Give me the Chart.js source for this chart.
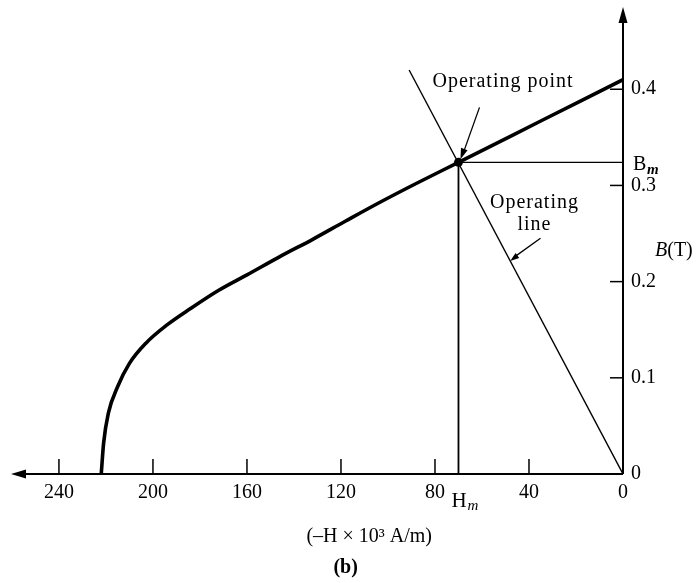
<!DOCTYPE html>
<html>
<head>
<meta charset="utf-8">
<script src="https://cdn.jsdelivr.net/npm/chart.js@4"></script>
<style>
  html, body { margin: 0; padding: 0; background: #fff; }
  #wrap { width: 698px; height: 583px; }
</style>
</head>
<body>
<div id="wrap"><canvas id="c" width="698" height="583"></canvas></div>
<script>
// ---- data (H in 10^3 A/m, shown as -H; B in tesla) ----
const hTicks = [240, 200, 160, 120, 80, 40, 0];
const bTicks = [0.1, 0.2, 0.3, 0.4];
const curveH = [222, 221, 219, 215, 210, 203, 194, 184, 172, 160, 146, 132, 118, 103, 88, 70, 35, 0];
const curveB = [0, 0.032, 0.063, 0.091, 0.115, 0.136, 0.155, 0.172, 0.191, 0.207, 0.226, 0.244, 0.263, 0.283, 0.302, 0.324, 0.367, 0.41];
const opLineH = [0, 91];
const opLineB = [0, 0.42];
const Hm = 70;
const Bm = 0.324;

const pts = (xs, ys) => xs.map((v, i) => ({ x: v, y: ys[i] }));
const SERIF = '"Liberation Serif", "Times New Roman", serif';

function line(ctx, x1, y1, x2, y2) {
  ctx.beginPath(); ctx.moveTo(x1, y1); ctx.lineTo(x2, y2); ctx.stroke();
}
function head(ctx, tx, ty, fx, fy, len, half) {
  const a = Math.atan2(ty - fy, tx - fx);
  ctx.beginPath();
  ctx.moveTo(tx, ty);
  ctx.lineTo(tx - len * Math.cos(a) + half * Math.sin(a), ty - len * Math.sin(a) - half * Math.cos(a));
  ctx.lineTo(tx - len * Math.cos(a) - half * Math.sin(a), ty - len * Math.sin(a) + half * Math.cos(a));
  ctx.closePath(); ctx.fill();
}

const axesPlugin = {
  id: 'axesPlugin',
  beforeDatasetsDraw(chart) {
    const { ctx, scales: { x, y } } = chart;
    const x0 = x.getPixelForValue(0), y0 = y.getPixelForValue(0);
    const xl = x.getPixelForValue(x.max), yt = y.getPixelForValue(y.max);
    ctx.save();
    ctx.strokeStyle = '#000'; ctx.fillStyle = '#000';
    ctx.lineWidth = 2;
    line(ctx, x0, y0, xl + 8, y0);
    head(ctx, xl, y0, xl + 20, y0, 15, 4.5);
    line(ctx, x0, y0, x0, yt + 8);
    head(ctx, x0, yt, x0, yt + 20, 16, 4.5);
    ctx.lineWidth = 1.5;
    hTicks.forEach(v => { if (v !== 0) { const px = x.getPixelForValue(v); line(ctx, px, y0, px, y0 - 15); } });
    bTicks.forEach(v => { const py = y.getPixelForValue(v); line(ctx, x0, py, x0 - 13, py); });
    ctx.font = '20px ' + SERIF;
    ctx.textBaseline = 'middle';
    ctx.textAlign = 'center';
    hTicks.forEach(v => ctx.fillText(String(v), x.getPixelForValue(v), y0 + 19));
    ctx.textAlign = 'left';
    bTicks.forEach(v => ctx.fillText(v.toFixed(1), x0 + 8, y.getPixelForValue(v)));
    ctx.fillText('0', x0 + 8, y0);
    ctx.restore();
  },
  afterDatasetsDraw(chart) {
    const { ctx, scales: { x, y } } = chart;
    const x0 = x.getPixelForValue(0), y0 = y.getPixelForValue(0);
    const ox = x.getPixelForValue(Hm), oy = y.getPixelForValue(Bm);
    ctx.save();
    ctx.fillStyle = '#000'; ctx.strokeStyle = '#000';
    ctx.textBaseline = 'alphabetic';
    // H_m
    ctx.textAlign = 'left';
    ctx.font = '21px ' + SERIF;
    ctx.fillText('H', ox - 7, y0 + 33);
    ctx.font = 'italic 15px ' + SERIF;
    ctx.fillText('m', ox + 9, y0 + 36);
    // B_m
    ctx.font = '20px ' + SERIF;
    ctx.fillText('B', x0 + 10, oy + 8);
    ctx.font = 'bold italic 15px ' + SERIF;
    ctx.fillText('m', x0 + 24, oy + 12);
    // B(T)
    const by = y.getPixelForValue(0.234);
    ctx.font = 'italic 20px ' + SERIF;
    ctx.fillText('B', x0 + 32, by + 7);
    const bw = ctx.measureText('B').width;
    ctx.font = '20px ' + SERIF;
    ctx.fillText('(T)', x0 + 32 + bw, by + 7);
    // axis title and caption
    ctx.textAlign = 'center';
    ctx.textBaseline = 'middle';
    ctx.fillText('(\u2013H \u00d7 10\u00b3 A/m)', x.getPixelForValue(108), y0 + 63);
    ctx.font = 'bold 20px ' + SERIF;
    ctx.fillText('(b)', x.getPixelForValue(118), y0 + 94);
    // Operating point label + arrow
    ctx.textBaseline = 'alphabetic';
    ctx.textAlign = 'left';
    ctx.font = '20px ' + SERIF;
    ctx.letterSpacing = '1px';
    ctx.fillText('Operating point', ox - 26, oy - 75);
    ctx.textAlign = 'center';
    ctx.fillText('Operating', ox + 76, oy + 46);
    ctx.fillText('line', ox + 76, oy + 68);
    ctx.letterSpacing = '0px';
    ctx.lineWidth = 1.3;
    line(ctx, ox + 21, oy - 55, ox + 5, oy - 10);
    head(ctx, ox + 2, oy - 3, ox + 21, oy - 55, 11, 3.5);
    // Operating line pointer
    const tH = 48, tB = opLineB[1] * tH / opLineH[1];
    const tx = x.getPixelForValue(tH), ty = y.getPixelForValue(tB);
    const sx = ox + 82, sy = oy + 76;
    line(ctx, sx, sy, tx + 3, ty - 3);
    head(ctx, tx, ty, sx, sy, 9, 3);
    ctx.restore();
  }
};

new Chart(document.getElementById('c'), {
  type: 'scatter',
  data: {
    datasets: [
      { data: pts(curveH, curveB), showLine: true, borderColor: '#000', borderWidth: 3.6, pointRadius: 0, cubicInterpolationMode: 'monotone', fill: false },
      { data: pts(opLineH, opLineB), showLine: true, borderColor: '#000', borderWidth: 1.4, pointRadius: 0, tension: 0 },
      { data: pts([Hm, Hm], [0, Bm]), showLine: true, borderColor: '#000', borderWidth: 1.8, pointRadius: 0, tension: 0 },
      { data: pts([Hm, 0], [Bm, Bm]), showLine: true, borderColor: '#000', borderWidth: 1.4, pointRadius: 0, tension: 0 },
      { data: pts([Hm], [Bm]), showLine: false, pointRadius: 4.5, pointBackgroundColor: '#000', pointBorderColor: '#000', pointBorderWidth: 0 }
    ]
  },
  options: {
    responsive: false,
    animation: false,
    devicePixelRatio: 1,
    layout: { padding: { left: 11, right: 75, top: 7, bottom: 109 } },
    scales: {
      x: { type: 'linear', reverse: true, min: 0, max: 260.4, display: false },
      y: { type: 'linear', min: 0, max: 0.4855, display: false }
    },
    plugins: { legend: { display: false }, tooltip: { enabled: false } }
  },
  plugins: [axesPlugin]
});
</script>
</body>
</html>
